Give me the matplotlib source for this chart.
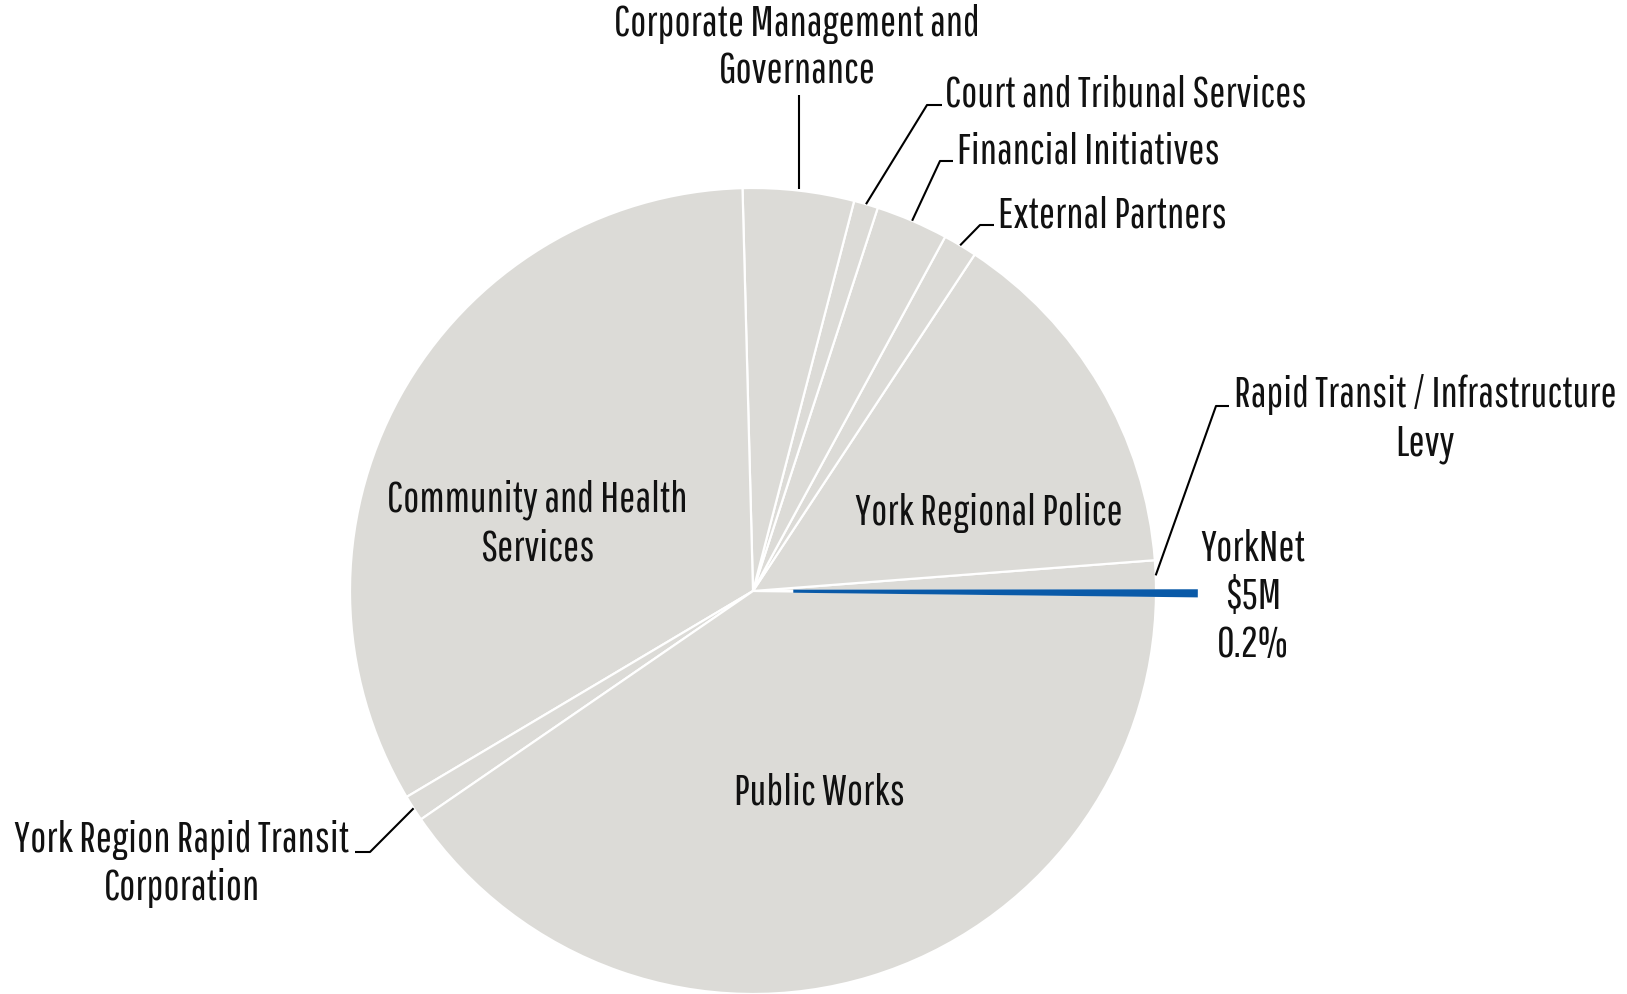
import numpy as np
import matplotlib
matplotlib.use("Agg")
import matplotlib.pyplot as plt

# ---- data (share of total, %) ----
categories = [
    "YorkNet",
    "Rapid Transit / Infrastructure\nLevy",
    "York Regional Police",
    "External Partners",
    "Financial Initiatives",
    "Court and Tribunal Services",
    "Corporate Management and\nGovernance",
    "Community and Health\nServices",
    "York Region Rapid Transit\nCorporation",
    "Public Works",
]
shares = [0.2, 1.2, 14.5, 1.36, 2.9, 0.97, 4.45, 33.1, 1.05, 40.2]
yorknet_amount = "$5M"

W, H = 1627, 995
plt.rcParams['font.family'] = ['Pathway Gothic One', 'DejaVu Sans']

fig = plt.figure(figsize=(W / 100, H / 100), dpi=100)
ax = fig.add_axes([0, 0, 1, 1])

def Y(y):
    return H - y

CX, CY, R = 753, Y(592), 403
grey = "#dcdbd7"
blue = "#0a5aa8"
colors = [blue] + [grey] * (len(shares) - 1)
explode = [0.1 * R] + [0] * (len(shares) - 1)

wedges, _ = ax.pie(shares, startangle=-0.66, counterclock=True, colors=colors,
                   explode=explode, radius=R, center=(CX, CY),
                   wedgeprops=dict(edgecolor="white", linewidth=1.6))
wedges[0].set_edgecolor(blue)
wedges[0].set_linewidth(2.2)
wedges[0].set_zorder(5)
ax.set_xlim(0, W)
ax.set_ylim(0, H)
ax.set_aspect("equal")
ax.axis("off")

FS = 31
LS = 1.25
tc = "#111111"

def mid_point(i, r=R):
    w = wedges[i]
    a = np.deg2rad((w.theta1 + w.theta2) / 2)
    return CX + r * np.cos(a), CY + r * np.sin(a)

# inside labels
inside = {2: (989, 513), 7: (537, 524), 9: (819, 793)}
for i, (x, y) in inside.items():
    ax.text(x, Y(y), categories[i], ha="center", va="center", fontsize=FS,
            color=tc, linespacing=LS)

# outside labels with leader lines: elbow, tick end, text pos, ha
outside = {
    6: (None, None, (797, 48), "center"),
    5: ((927, 106), (942, 106), (945, 95), "left"),
    4: ((940, 162), (953, 162), (957, 152), "left"),
    3: ((980, 226), (994, 226), (998, 216), "left"),
    1: ((1216, 407), (1229, 407), (1425, 419), "center"),
    8: ((370, 853), (355, 853), (182, 864), "center"),
}
for i, (elbow, tick, tpos, ha) in outside.items():
    sx, sy = mid_point(i)
    if elbow is None:
        ax.plot([sx, sx], [sy + 2, Y(96)], color="black", lw=1.5, solid_capstyle="butt")
    else:
        ax.plot([sx, elbow[0], tick[0]], [sy, Y(elbow[1]), Y(tick[1])],
                color="black", lw=1.5, solid_capstyle="butt")
    ax.text(tpos[0], Y(tpos[1]), categories[i], ha=ha, va="center", fontsize=FS,
            color=tc, linespacing=LS, multialignment="center")

# YorkNet label
ax.text(1253, Y(597), f"{categories[0]}\n{yorknet_amount}\n{shares[0]}%",
        ha="center", va="center", fontsize=FS, color=tc, linespacing=LS)

fig.savefig("out.png", dpi=100, facecolor="white")
